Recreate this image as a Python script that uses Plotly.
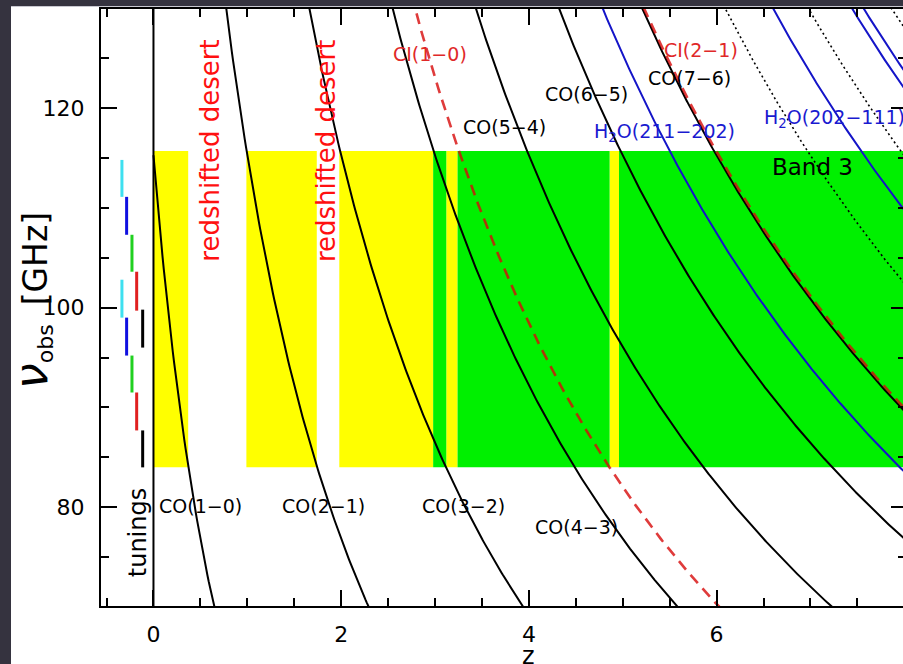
import numpy as np
import plotly.graph_objects as go

# ---------------- data ----------------
# rest frequencies [GHz]; each line is drawn as nu_obs = nu_rest / (1 + z)
co_names = ["CO(1−0)", "CO(2−1)", "CO(3−2)", "CO(4−3)", "CO(5−4)", "CO(6−5)", "CO(7−6)"]
co_rest = [115.27, 230.54, 345.80, 461.04, 576.27, 691.47, 806.65]
co_high_rest = [921.80, 1036.91, 1151.99]          # dotted (CO 8-7, 9-8, 10-9)
h2o_rest = [752.03, 987.93, 1097.37, 1113.34]       # blue
ci_rest = [492.16, 809.34]                          # red dashed

z_grid = np.linspace(0.0, 8.2, 600)

# Band 3 coverage
band_lo, band_hi = 84.0, 115.7
yellow_z0 = [0.00, 0.99, 1.98, 3.12, 4.86]
yellow_z1 = [0.37, 1.74, 2.98, 3.24, 4.96]
green_z0 = [2.98, 3.24, 4.96]
green_z1 = [3.12, 4.86, 8.20]

# tunings
tuning_colors = ["#3ee0f0", "#1010e0", "#20d020", "#e02020", "black"]
tuning_z = [-0.336, -0.286, -0.229, -0.179, -0.115]
tun1_lo = [111.1, 107.3, 103.6, 99.7, 96.0]
tun1_hi = [114.8, 111.1, 107.3, 103.6, 99.8]
tun2_lo = [99.0, 95.2, 91.5, 87.7, 84.0]
tun2_hi = [102.8, 99.0, 95.2, 91.5, 87.7]

# labels: text, z, nu, colour, size
BLACK, RED, BLUE = "black", "#e02828", "#1a1ad0"
labels = [
    ("CO(1−0)", 0.50, 80.1, BLACK, 19),
    ("CO(2−1)", 1.81, 80.1, BLACK, 19),
    ("CO(3−2)", 3.30, 80.1, BLACK, 19),
    ("CO(4−3)", 4.51, 78.0, BLACK, 19),
    ("CO(5−4)", 3.74, 118.1, BLACK, 19),
    ("CO(6−5)", 4.61, 121.4, BLACK, 19),
    ("CO(7−6)", 5.71, 123.0, BLACK, 19),
    ("CI(1−0)", 2.95, 125.4, RED, 19),
    ("CI(2−1)", 5.83, 125.8, RED, 19),
    ("H<sub>2</sub>O(211−202)", 5.44, 117.5, BLUE, 19),
    ("H<sub>2</sub>O(202−111)", 7.26, 119.0, BLUE, 19),
    ("Band 3", 7.02, 114.1, BLACK, 23),
]
desert_z = [0.60, 1.84]
desert_nu = 115.7

X_RANGE = [-0.559, 7.986]
Y_RANGE = [70.11, 129.92]

fig = go.Figure()

# band coverage rectangles
for a, b in zip(yellow_z0, yellow_z1):
    fig.add_shape(type="rect", xref="x", yref="y", x0=a, x1=b, y0=band_lo, y1=band_hi,
                  fillcolor="#ffff00", line_width=0, layer="below")
for a, b in zip(green_z0, green_z1):
    fig.add_shape(type="rect", xref="x", yref="y", x0=a, x1=b, y0=band_lo, y1=band_hi,
                  fillcolor="#00f000", line_width=0, layer="below")

def curve(nu0):
    return nu0 / (1.0 + z_grid)

for nu0 in co_rest:
    fig.add_trace(go.Scatter(x=z_grid, y=curve(nu0), mode="lines",
                             line=dict(color="black", width=2), hoverinfo="skip"))
for nu0 in h2o_rest:
    fig.add_trace(go.Scatter(x=z_grid, y=curve(nu0), mode="lines",
                             line=dict(color="#1414c8", width=2), hoverinfo="skip"))
for nu0 in co_high_rest:
    fig.add_trace(go.Scatter(x=z_grid, y=curve(nu0), mode="lines",
                             line=dict(color="black", width=1.6, dash="2px,3px"), hoverinfo="skip"))
for nu0 in ci_rest:
    fig.add_trace(go.Scatter(x=z_grid, y=curve(nu0), mode="lines",
                             line=dict(color="rgba(215,10,10,0.8)", width=2.6, dash="11px,7px"),
                             hoverinfo="skip"))

# vertical line at z = 0
fig.add_trace(go.Scatter(x=[0, 0], y=Y_RANGE, mode="lines",
                         line=dict(color="black", width=2), hoverinfo="skip"))

# tunings
for c, zz, a1, b1, a2, b2 in zip(tuning_colors, tuning_z, tun1_lo, tun1_hi, tun2_lo, tun2_hi):
    fig.add_trace(go.Scatter(x=[zz, zz, None, zz, zz], y=[a1, b1, None, a2, b2], mode="lines",
                             line=dict(color=c, width=3), hoverinfo="skip"))

# empty trace holding the right-hand tick axis
fig.add_trace(go.Scatter(x=[None], y=[None], yaxis="y2", mode="lines", hoverinfo="skip"))

# page backdrop
fig.add_shape(type="rect", xref="paper", yref="paper", x0=(11 - 101) / 802, x1=1.05,
              y0=-0.3, y1=1 + 3 / 597, fillcolor="white", line_width=0, layer="below")
fig.add_shape(type="line", xref="paper", yref="paper", x0=(11 - 101) / 802, x1=1.05,
              y0=1 + 2.5 / 597, y1=1 + 2.5 / 597, line=dict(color="#c8c8d0", width=1))

FONT = "DejaVu Sans"
for txt, zx, nu, col, sz in labels:
    fig.add_annotation(x=zx, y=nu, xref="x", yref="y", text=txt, showarrow=False,
                       font=dict(family=FONT, size=sz, color=col),
                       xanchor="center", yanchor="middle")

for zx in desert_z:
    fig.add_annotation(x=zx, y=desert_nu, xref="x", yref="y", text="redshifted desert",
                       showarrow=False, textangle=-90,
                       font=dict(family=FONT, size=26, color="#ff1010"),
                       xanchor="center", yanchor="middle")

fig.add_annotation(x=-0.165, y=77.5, xref="x", yref="y", text="tunings", showarrow=False,
                   textangle=-90, font=dict(family=FONT, size=24, color="black"),
                   xanchor="center", yanchor="middle")

# axis titles
fig.add_annotation(x=(31 - 101) / 802, y=(606 - 301) / 597, xref="paper", yref="paper",
                   text="<span style='font-size:46px'><i>ν</i></span>"
                        "<sub><span style='font-size:22px'>obs</span></sub>"
                        "  <span style='font-size:33px'>[GHz]</span>",
                   showarrow=False, textangle=-90,
                   font=dict(family=FONT, size=30, color="black"),
                   xanchor="center", yanchor="middle")
fig.add_annotation(x=4.0, y=(606 - 640) / 597, xref="x", yref="paper", text="z",
                   showarrow=False, font=dict(family=FONT, size=24, color="black"),
                   xanchor="center", yanchor="top")

fig.update_layout(
    width=903, height=664,
    margin=dict(l=101, r=0, t=9, b=58),
    paper_bgcolor="#35333f", plot_bgcolor="white",
    showlegend=False,
    font=dict(family=FONT, color="black"),
    xaxis=dict(range=X_RANGE, showline=True, linecolor="black", linewidth=2, mirror="ticks",
               ticks="inside", ticklen=16, tickwidth=2, tickcolor="black",
               tick0=0, dtick=2, showgrid=False, zeroline=False,
               tickfont=dict(family=FONT, size=22, color="black"),
               ticklabelstandoff=8,
               minor=dict(tick0=0, dtick=0.5, ticks="inside", ticklen=8, tickwidth=2,
                          tickcolor="black", showgrid=False)),
    yaxis=dict(range=Y_RANGE, showline=True, linecolor="black", linewidth=2,
               ticks="inside", ticklen=16, tickwidth=2, tickcolor="black",
               tick0=0, dtick=20, showgrid=False, zeroline=False,
               tickfont=dict(family=FONT, size=22, color="black"),
               ticklabelstandoff=10,
               minor=dict(tick0=0, dtick=5, ticks="inside", ticklen=8, tickwidth=2,
                          tickcolor="black", showgrid=False)),
    yaxis2=dict(range=Y_RANGE, overlaying="y", side="right", showline=False,
                ticks="inside", ticklen=12, tickwidth=2, tickcolor="black",
                tick0=0, dtick=20, showgrid=False, zeroline=False, showticklabels=False,
                minor=dict(tick0=0, dtick=5, ticks="inside", ticklen=5, tickwidth=2,
                           tickcolor="black", showgrid=False)),
)

fig.write_html("out.html", config={"displayModeBar": False},
               post_script="document.body.style.margin='0';document.body.style.overflow='hidden';")
